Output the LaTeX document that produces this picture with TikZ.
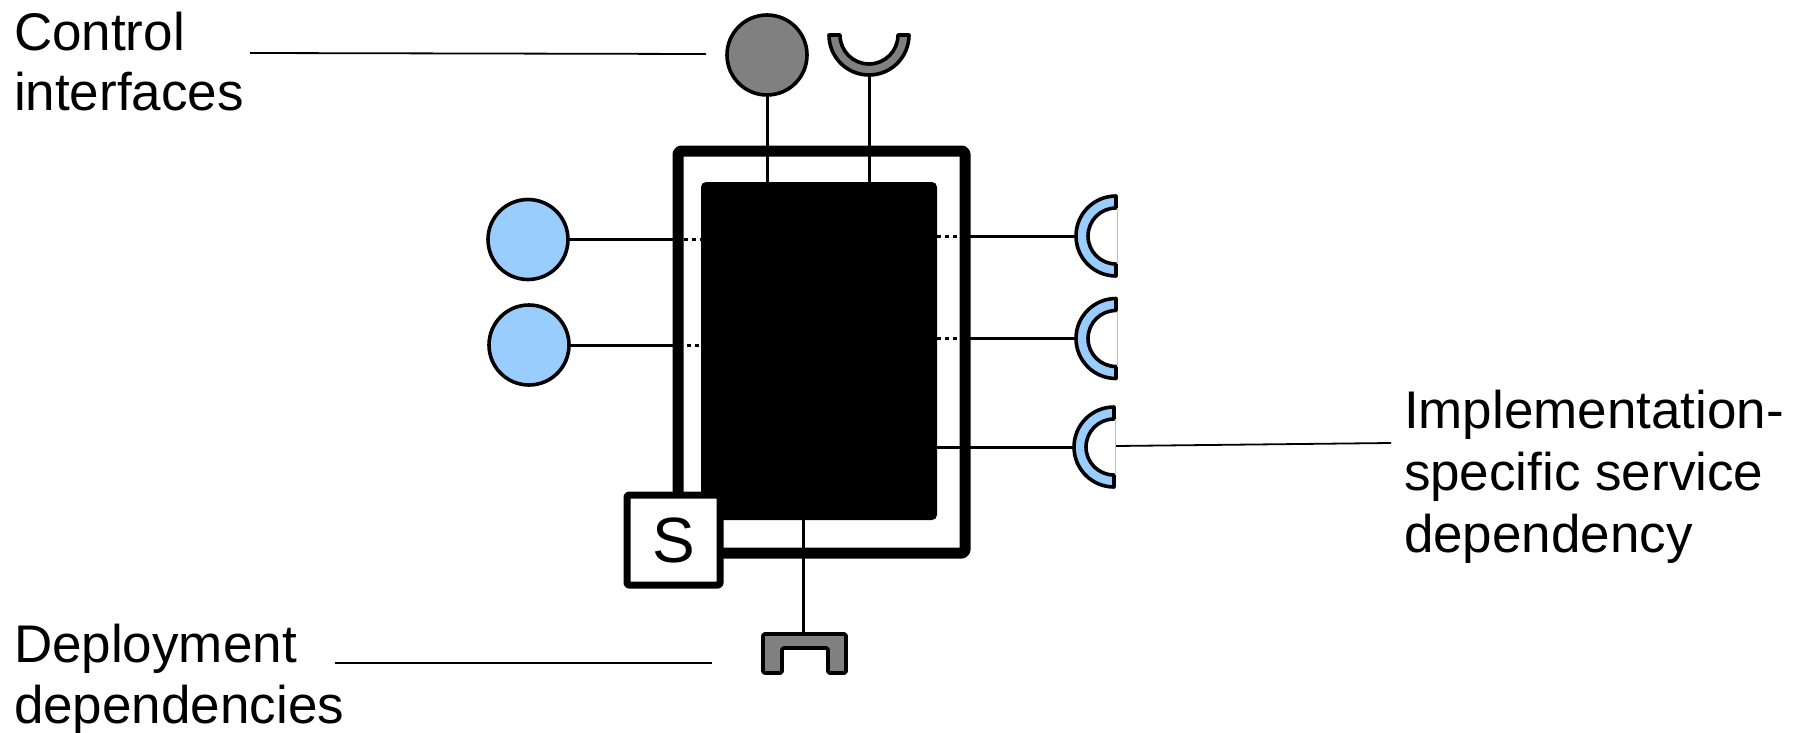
\documentclass[tikz,border=0pt]{standalone}
\usepackage{fontspec}
\setmainfont{Liberation Sans}
\usetikzlibrary{calc}
\definecolor{ctrlgray}{RGB}{128,128,128}
\definecolor{ifblue}{RGB}{153,204,255}
\begin{document}
\begin{tikzpicture}[x=1pt,y=-1pt,line join=round,
  every node/.style={outer sep=0pt,inner sep=0pt},
  wire/.style={line width=3pt},
  dotwire/.style={line width=3pt,dash pattern=on 4pt off 4pt},
  leader/.style={line width=1.8pt},
  outl/.style={draw=black,line width=3.6pt},
  provided/.style={circle,outl,minimum size=80pt,fill=ifblue},
  labeltext/.style={anchor=base west,align=left}]
\useasboundingbox (0,0) rectangle (1806,733);

% ---- anchor points of the shapes ----
\coordinate (cupc) at (869,35);
\coordinate (r1) at (1116,236);
\coordinate (r2) at (1116,338.5);
\coordinate (r3) at (1114,447);
\coordinate (deptop) at (803,634);

% ---- main nodes ----
\node[provided,fill=ctrlgray] (ci) at (767,55) {};
\node[provided] (l1) at (528,239.5) {};
\node[provided] (l2) at (529,345) {};

% wires (under the frame)
\draw[wire] (ci.south) -- (ci.south |- 0,182);
\draw[wire] ($(cupc)+(0,40)$) -- ($(cupc)+(0,147)$);
\draw[wire] (l1.east) -- (678,239.5);
\draw[wire] (l2.east) -- (678,345);
\draw[wire] (965,236) -- ($(r1)+(-40,0)$);
\draw[wire] (965,338.5) -- ($(r2)+(-40,0)$);
\draw[wire] (937,447) -- ($(r3)+(-40,0)$);
\draw[wire] (803,520) -- (deptop);

% component frame and core
\node[draw,line width=11pt,rounded corners=3pt,minimum width=287pt,minimum height=402pt] (frame) at (821.5,352) {};
\node[fill=black,rounded corners=5pt,minimum width=236pt,minimum height=338pt] (core) at (819,351) {};

% dotted inner links
\draw[dotwire] (683.5,239.5) -- (core.west |- l1);
\draw[dotwire] (686.5,345) -- (core.west |- l2);
\draw[dotwire] (core.east |- r1) -- (959.5,236);
\draw[dotwire] (core.east |- r2) -- (959.5,338.5);

% S box
\node[draw,line width=7pt,fill=white,rounded corners=2pt,minimum width=93pt,minimum height=90pt,
      font=\fontsize{64}{64}\selectfont] (sbox) at (673.5,540) {S};

% control receptacle (gray cup)
\draw[outl,fill=ctrlgray] ($(cupc)+(-40,0)$) arc[start angle=180,end angle=0,radius=40]
  -- ++(-11,0) arc[start angle=0,end angle=180,radius=29] -- cycle;

% required service receptacles (blue cups)
\foreach \c in {r1,r2,r3}{
  \draw[outl,fill=ifblue] ($(\c)+(0,-40)$) arc[start angle=270,end angle=90,radius=40]
    -- ++(0,-12) arc[start angle=90,end angle=270,radius=28] -- cycle;
  \draw[line width=1pt,black!25] ($(\c)+(1,-28)$) -- ($(\c)+(1,28)$);
}

% deployment dependency
\draw[outl,fill=ctrlgray,rounded corners=1.5pt] (763,673) -- (763,634) -- (846,634) -- (846,673)
  -- (828,673) -- (828,648) -- (782,648) -- (782,673) -- cycle;

% ---- labels and leaders (base = baseline of last line) ----
\node[labeltext,font=\fontsize{53}{60}\selectfont] (ctltext) at (14,111) {Control\\interfaces};
\coordinate (ctlA) at (250,53);
\coordinate (ctlB) at (706,54);
\draw[leader] (ctlA) -- (ctlB);

\node[labeltext,font=\fontsize{53}{61}\selectfont] (deptext) at (14,723) {Deployment\\dependencies};
\coordinate (depA) at (335,663);
\coordinate (depB) at (712,663);
\draw[leader] (depA) -- (depB);

\node[labeltext,font=\fontsize{53}{62}\selectfont] (impltext) at (1404,552) {Implementation-\\specific service\\dependency};
\coordinate (implA) at (1391,443);
\draw[leader] ($(r3)+(2,-1)$) -- (implA);
\end{tikzpicture}
\end{document}
